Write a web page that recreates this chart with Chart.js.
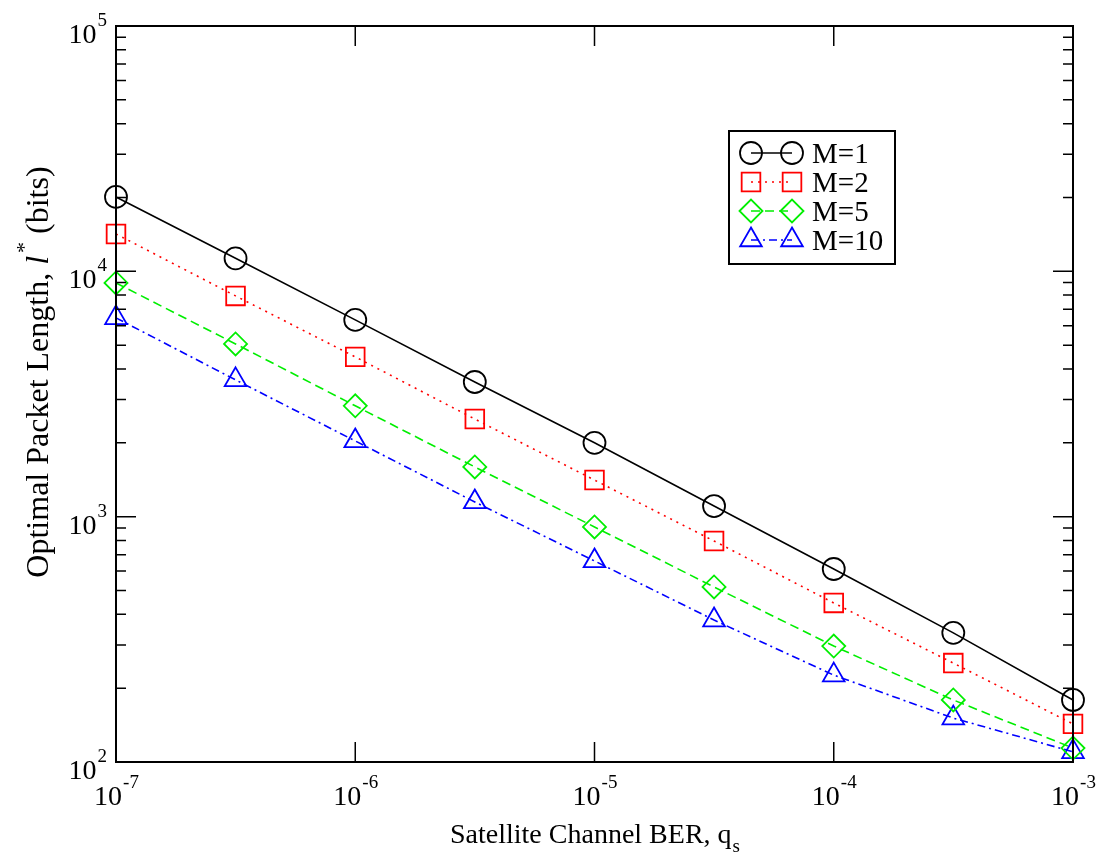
<!DOCTYPE html>
<html>
<head>
<meta charset="utf-8">
<script src="https://cdn.jsdelivr.net/npm/chart.js@4.4.1/dist/chart.umd.min.js"></script>
<style>
  html, body { margin: 0; background: #fff; }
  #wrap { width: 1099px; height: 867px; }
</style>
</head>
<body>
<div id="wrap"><canvas id="c"></canvas></div>
<script>
// values (log-log)
const qs  = [1e-7, 3.16e-7, 1e-6, 3.16e-6, 1e-5, 3.16e-5, 1e-4, 3.16e-4, 1e-3];
const m1  = [20100, 11300, 6340, 3540, 2000, 1105, 612, 336, 179];
const m2  = [14200, 7940, 4480, 2500, 1410, 796, 445, 253, 143];
const m5  = [8970, 5060, 2830, 1595, 908, 517, 297, 179, 114];
const m10 = [6460, 3610, 2035, 1148, 660, 379, 226, 151, 110];
const labels = ['M=1', 'M=2', 'M=5', 'M=10'];
const xExp = [-7, -6, -5, -4, -3];   // x tick labels 10^n
const yExp = [2, 3, 4, 5];           // y tick labels 10^n

const FONT = '"Liberation Serif", "Times New Roman", serif';

function pts(vals) { return qs.map((q, i) => ({ x: q, y: vals[i] })); }

function series(label, vals, color, style, radius, dash) {
  return {
    label: label,
    data: pts(vals),
    borderColor: color,
    borderWidth: 1.6,
    borderDash: dash,
    pointStyle: style,
    pointRadius: radius,
    pointHoverRadius: radius,
    pointBorderColor: color,
    pointBackgroundColor: 'rgba(0,0,0,0)',
    pointBorderWidth: 1.8,
    fill: false,
    tension: 0,
    clip: false
  };
}

// power-of-ten label: "10" plus raised exponent
function drawPow(ctx, exp, x, y, align) {
  ctx.font = '28px ' + FONT;
  const wb = ctx.measureText('10').width;
  ctx.font = '19px ' + FONT;
  const we = ctx.measureText(String(exp)).width;
  let left = x;
  if (align === 'center') left = x - (wb + we) / 2;
  if (align === 'right') left = x - (wb + we);
  ctx.textAlign = 'left';
  ctx.textBaseline = 'alphabetic';
  ctx.font = '28px ' + FONT;
  ctx.fillText('10', left, y);
  ctx.font = '19px ' + FONT;
  ctx.fillText(String(exp), left + wb + 1, y - 17);
}

function marker(ctx, style, radius, x, y) {
  const opts = { pointStyle: style, radius: radius, rotation: 0, borderWidth: 1.8 };
  ctx.fillStyle = 'rgba(0,0,0,0)';
  Chart.helpers.drawPoint(ctx, opts, x, y);
}

const frame = {
  id: 'frame',
  afterDraw(chart) {
    const { ctx, chartArea: a, scales: { x, y } } = chart;
    ctx.save();
    ctx.setLineDash([]);
    ctx.strokeStyle = '#000';
    ctx.lineWidth = 2;
    ctx.strokeRect(a.left, a.top, a.right - a.left, a.bottom - a.top);

    // inward ticks
    ctx.lineWidth = 1.5;
    ctx.beginPath();
    xExp.forEach(e => {
      const px = x.getPixelForValue(Math.pow(10, e));
      ctx.moveTo(px, a.bottom); ctx.lineTo(px, a.bottom - 20);
      ctx.moveTo(px, a.top);    ctx.lineTo(px, a.top + 20);
    });
    for (let e = 2; e <= 5; e++) {
      for (let k = 1; k <= 9; k++) {
        if (e === 5 && k > 1) break;
        const py = y.getPixelForValue(k * Math.pow(10, e));
        const len = k === 1 ? 20 : 10;
        ctx.moveTo(a.left, py);  ctx.lineTo(a.left + len, py);
        ctx.moveTo(a.right, py); ctx.lineTo(a.right - len, py);
      }
    }
    ctx.stroke();

    // tick labels
    ctx.fillStyle = '#000';
    xExp.forEach(e => drawPow(ctx, e, x.getPixelForValue(Math.pow(10, e)), a.bottom + 43, 'center'));
    yExp.forEach(e => drawPow(ctx, e, 106, y.getPixelForValue(Math.pow(10, e)) + 17, 'right'));

    // x title
    const xt = 'Satellite Channel BER, q';
    ctx.font = '28px ' + FONT;
    const wx = ctx.measureText(xt).width;
    ctx.font = '19px ' + FONT;
    const ws = ctx.measureText('s').width;
    let lx = (a.left + a.right) / 2 - (wx + ws) / 2;
    ctx.font = '28px ' + FONT;
    ctx.fillText(xt, lx, 843);
    ctx.font = '19px ' + FONT;
    ctx.fillText('s', lx + wx + 1, 852);

    // y title, rotated
    ctx.save();
    ctx.translate(48, 372);
    ctx.rotate(-Math.PI / 2);
    const p1 = 'Optimal Packet Length, ', p2 = 'l', p3 = '*', p4 = ' (bits)';
    ctx.font = '32px ' + FONT;
    const w1 = ctx.measureText(p1).width, w4 = ctx.measureText(p4).width;
    ctx.font = 'italic 32px ' + FONT;
    const w2 = ctx.measureText(p2).width;
    ctx.font = '22px ' + FONT;
    const w3 = ctx.measureText(p3).width;
    let tx = -(w1 + w2 + w3 + w4 + 3) / 2;
    ctx.font = '32px ' + FONT;
    ctx.fillText(p1, tx, 0); tx += w1;
    ctx.font = 'italic 32px ' + FONT;
    ctx.fillText(p2, tx, 0); tx += w2 + 3;
    ctx.font = '22px ' + FONT;
    ctx.fillText(p3, tx, -17); tx += w3;
    ctx.font = '32px ' + FONT;
    ctx.fillText(p4, tx, 0);
    ctx.restore();

    // legend box
    ctx.lineWidth = 2;
    ctx.strokeStyle = '#000';
    ctx.strokeRect(729, 131, 166, 133);
    const rows = [153, 182, 211, 240];
    chart.data.datasets.forEach((ds, i) => {
      const ry = rows[i];
      ctx.strokeStyle = ds.borderColor;
      ctx.lineWidth = ds.borderWidth;
      ctx.setLineDash(ds.borderDash || []);
      ctx.beginPath();
      ctx.moveTo(751, ry); ctx.lineTo(792, ry);
      ctx.stroke();
      ctx.setLineDash([]);
      ctx.lineWidth = 1.8;
      marker(ctx, ds.pointStyle, ds.pointRadius, 751, ry);
      marker(ctx, ds.pointStyle, ds.pointRadius, 792, ry);
      ctx.fillStyle = '#000';
      ctx.font = '29px ' + FONT;
      ctx.textAlign = 'left';
      ctx.fillText(ds.label, 812, ry + 10);
    });
    ctx.restore();
  }
};

new Chart(document.getElementById('c'), {
  type: 'line',
  data: {
    datasets: [
      series(labels[0], m1,  '#000000', 'circle',   11,   []),
      series(labels[1], m2,  '#ff0000', 'rect',     13.2, [2, 5]),
      series(labels[2], m5,  '#00ee00', 'rectRot',  11.5, [9, 5]),
      series(labels[3], m10, '#0000ff', 'triangle', 12.5, [8, 4, 2, 4])
    ]
  },
  options: {
    responsive: true,
    maintainAspectRatio: false,
    animation: false,
    layout: { padding: { left: 116, right: 26, top: 26, bottom: 105 } },
    scales: {
      x: { type: 'logarithmic', min: 1e-7, max: 1e-3, display: false },
      y: { type: 'logarithmic', min: 100, max: 100000, display: false }
    },
    plugins: {
      legend: { display: false },
      tooltip: { enabled: false }
    }
  },
  plugins: [frame]
});
</script>
</body>
</html>
